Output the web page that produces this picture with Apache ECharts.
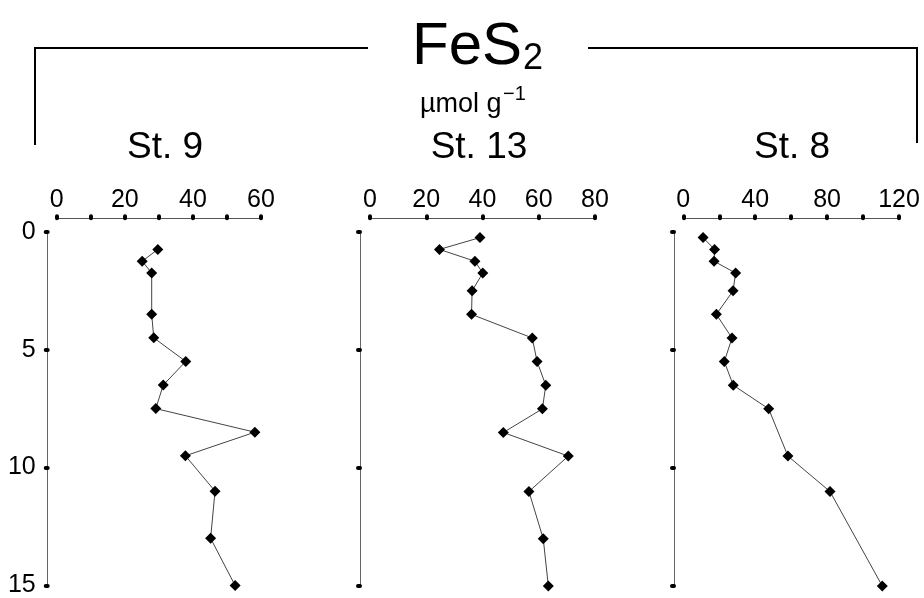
<!DOCTYPE html>
<html>
<head>
<meta charset="utf-8">
<script src="https://cdn.jsdelivr.net/npm/echarts@6/dist/echarts.min.js"></script>
<style>
  html, body { margin: 0; padding: 0; background: #fff; }
  #chart { width: 924px; height: 598px; }
</style>
</head>
<body>
<div id="chart"></div>
<script>
// Pyrite (FeS2) depth profiles, µmol g-1, at three stations
var stations = ['St. 9', 'St. 13', 'St. 8'];

var depthSt9  = [0.75, 1.25, 1.75, 3.5, 4.5, 5.5, 6.5, 7.5, 8.5, 9.5, 11, 13, 15];
var feS2St9   = [29.7, 25.1, 27.9, 27.9, 28.5, 37.9, 31.3, 29.1, 58.2, 37.8, 46.5, 45.2, 52.4];

var depthSt13 = [0.25, 0.75, 1.25, 1.75, 2.5, 3.5, 4.5, 5.5, 6.5, 7.5, 8.5, 9.5, 11, 13, 15];
var feS2St13  = [39.1, 24.7, 37.3, 40.1, 36.3, 36.1, 57.7, 59.4, 62.5, 61.3, 47.4, 70.5, 56.5, 61.6, 63.4];

var depthSt8  = [0.25, 0.75, 1.25, 1.75, 2.5, 3.5, 4.5, 5.5, 6.5, 7.5, 9.5, 11, 15];
var feS2St8   = [11.0, 17.4, 17.1, 29.1, 27.7, 18.4, 27.1, 22.8, 27.8, 47.5, 58.2, 81.6, 110.7];

// concentration axes per station: max, tick step, label step
var xMaxes      = [60, 80, 120];
var xTickSteps  = [10, 20, 20];
var xLabelSteps = [20, 20, 40];
var depthTicks  = [0, 5, 10, 15];

var depths = [depthSt9, depthSt13, depthSt8];
var values = [feS2St9, feS2St13, feS2St8];

var FONT = 'Liberation Sans, Arial, Helvetica, sans-serif';

// panel layout
var panels = [
  { left: 56.7,  width: 204.3, yOffset: 9 },
  { left: 370,   width: 225,   yOffset: 10 },
  { left: 683.3, width: 215.7, yOffset: 9.3 }
];
var gridTop = 231.7, gridBottom = 12;

var grids = [], xAxes = [], yAxes = [], series = [];
panels.forEach(function (p, i) {
  var labelStep = xLabelSteps[i];
  grids.push({ left: p.left, width: p.width, top: gridTop, bottom: gridBottom, containLabel: false });
  xAxes.push({
    type: 'value', gridIndex: i, position: 'top', offset: 13.4,
    min: 0, max: xMaxes[i], interval: xTickSteps[i],
    axisLine: { show: true, onZero: false, lineStyle: { color: '#555', width: 1 } },
    axisTick: { show: true, length: 2, lineStyle: { color: '#000', width: 4, cap: 'round' } },
    axisLabel: {
      show: true, margin: 6, color: '#000', fontSize: 25, fontFamily: FONT,
      formatter: function (v) { return v % labelStep === 0 ? String(v) : ''; }
    },
    splitLine: { show: false }
  });
  yAxes.push({
    type: 'value', gridIndex: i, inverse: true, position: 'left', offset: p.yOffset,
    min: depthTicks[0], max: depthTicks[depthTicks.length - 1], interval: 5,
    axisLine: { show: true, onZero: false, lineStyle: { color: '#666', width: 1 } },
    axisTick: { show: true, length: 2, lineStyle: { color: '#000', width: 4, cap: 'round' } },
    axisLabel: { show: i === 0, margin: 12, color: '#000', fontSize: 25, fontFamily: FONT },
    splitLine: { show: false }
  });
  series.push({
    type: 'line', xAxisIndex: i, yAxisIndex: i,
    data: values[i].map(function (v, k) { return [v, depths[i][k]]; }),
    symbol: 'diamond', symbolSize: 11,
    itemStyle: { color: '#000' },
    lineStyle: { color: '#444', width: 1 },
    showSymbol: true, animation: false, silent: true
  });
});

var stationCentres = [165, 479, 792];
var graphics = [
  // bracket spanning the three stations
  { type: 'polyline', shape: { points: [[35, 145], [35, 48], [368, 48]] },
    style: { stroke: '#000', lineWidth: 2, fill: null } },
  { type: 'polyline', shape: { points: [[588, 48], [917, 48], [917, 143]] },
    style: { stroke: '#000', lineWidth: 2, fill: null } },
  { type: 'text', x: 412, y: 77, style: { text: 'FeS', font: '60px ' + FONT, fill: '#000', textVerticalAlign: 'bottom' } },
  { type: 'text', x: 523, y: 77, style: { text: '2', font: '36px ' + FONT, fill: '#000', textVerticalAlign: 'bottom' } },
  { type: 'text', x: 420, y: 118, style: { text: 'µmol g', font: '27px ' + FONT, fill: '#000', textVerticalAlign: 'bottom' } },
  { type: 'text', x: 503, y: 104, style: { text: '−1', font: '20px ' + FONT, fill: '#000', textVerticalAlign: 'bottom' } }
];
stations.forEach(function (s, i) {
  graphics.push({ type: 'text', x: stationCentres[i], y: 166,
    style: { text: s, font: '37px ' + FONT, fill: '#000', textAlign: 'center', textVerticalAlign: 'bottom' } });
});

var chart = echarts.init(document.getElementById('chart'), null, { renderer: 'canvas' });
chart.setOption({
  animation: false,
  backgroundColor: '#fff',
  grid: grids,
  xAxis: xAxes,
  yAxis: yAxes,
  series: series,
  graphic: graphics
});
</script>
</body>
</html>
